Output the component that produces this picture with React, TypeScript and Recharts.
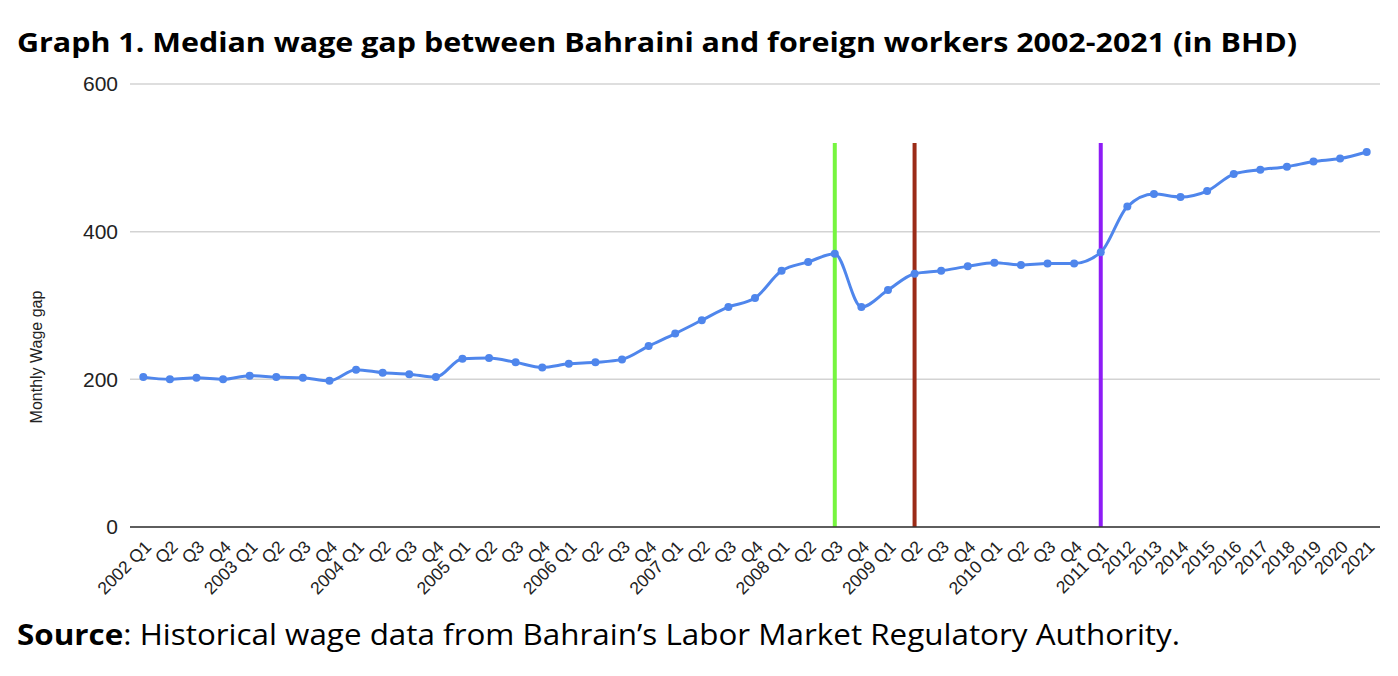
import { LineChart, Line, XAxis, YAxis, CartesianGrid, ReferenceLine, Label } from 'recharts';

// quarter keys (unique) and what is printed under each one
const periods = [
  '2002 Q1', '2002 Q2', '2002 Q3', '2002 Q4',
  '2003 Q1', '2003 Q2', '2003 Q3', '2003 Q4',
  '2004 Q1', '2004 Q2', '2004 Q3', '2004 Q4',
  '2005 Q1', '2005 Q2', '2005 Q3', '2005 Q4',
  '2006 Q1', '2006 Q2', '2006 Q3', '2006 Q4',
  '2007 Q1', '2007 Q2', '2007 Q3', '2007 Q4',
  '2008 Q1', '2008 Q2', '2008 Q3', '2008 Q4',
  '2009 Q1', '2009 Q2', '2009 Q3', '2009 Q4',
  '2010 Q1', '2010 Q2', '2010 Q3', '2010 Q4',
  '2011 Q1', '2012', '2013', '2014', '2015', '2016', '2017', '2018', '2019', '2020', '2021',
];

const tickLabels = [
  '2002 Q1', 'Q2', 'Q3', 'Q4',
  '2003 Q1', 'Q2', 'Q3', 'Q4',
  '2004 Q1', 'Q2', 'Q3', 'Q4',
  '2005 Q1', 'Q2', 'Q3', 'Q4',
  '2006 Q1', 'Q2', 'Q3', 'Q4',
  '2007 Q1', 'Q2', 'Q3', 'Q4',
  '2008 Q1', 'Q2', 'Q3', 'Q4',
  '2009 Q1', 'Q2', 'Q3', 'Q4',
  '2010 Q1', 'Q2', 'Q3', 'Q4',
  '2011 Q1', '2012', '2013', '2014', '2015', '2016', '2017', '2018', '2019', '2020', '2021',
];

const wageGap = [
  203, 200, 202, 200,
  205, 203, 202, 198,
  213, 209, 207, 203,
  228, 229, 223, 216,
  221, 223, 227, 245,
  262, 280, 298, 310,
  347, 359, 370, 298,
  321, 343, 347, 353,
  358, 355, 357, 357,
  372, 434, 451, 447, 455, 478, 484, 488, 495, 499, 508,
];

const yTicks = [0, 200, 400, 600];

// hand-drawn markers on the original chart
const markers = [
  { at: '2008 Q3', color: '#76f53f' },
  { at: '2009 Q2', color: '#9b2b17' },
  { at: '2011 Q1', color: '#8e1cf6' },
];
const markerTop = 520;

const chartData = periods.map((p, i) => ({ period: p, gap: wageGap[i] }));

const XTick = ({ x, y, index }: any) => {
  const ax = x + 9;
  const ay = y + 13;
  return (
    <text
      x={ax}
      y={ay}
      transform={`rotate(-45 ${ax} ${ay})`}
      textAnchor="end"
      fontSize={17.5}
      fontFamily="Liberation Sans, Arial, sans-serif"
      fill="#222"
    >
      {tickLabels[index]}
    </text>
  );
};

export default function App() {
  return (
    <div style={{ position: 'relative', width: 1398, height: 660, margin: -8, background: '#fff' }}>
      <div style={{ position: 'absolute', left: 0, top: 0 }}>
        <LineChart
          width={1398}
          height={620}
          data={chartData}
          margin={{ top: 84, right: 18, left: 70, bottom: 13 }}
        >
          <CartesianGrid vertical={false} stroke="#d3d3d3" strokeWidth={1.5} />
          <XAxis
            dataKey="period"
            interval={0}
            tickLine={false}
            axisLine={{ stroke: '#333', strokeWidth: 1.5 }}
            padding={{ left: 13.3, right: 13.3 }}
            height={80}
            tick={<XTick />}
          />
          <YAxis
            width={60}
            domain={[0, 600]}
            ticks={yTicks}
            axisLine={false}
            tickLine={false}
            tickMargin={6}
            tick={{ fontSize: 21, fill: '#222', fontFamily: 'Liberation Sans, Arial, sans-serif' }}
          >
            <Label
              content={() => (
                <text
                  x={42}
                  y={357}
                  transform="rotate(-90 42 357)"
                  textAnchor="middle"
                  fontSize={16}
                  fontFamily="Liberation Sans, Arial, sans-serif"
                  fill="#222"
                >
                  Monthly Wage gap
                </text>
              )}
            />
          </YAxis>
          <Line
            type="monotone"
            dataKey="gap"
            stroke="#4f86ec"
            strokeWidth={3}
            dot={{ r: 4, fill: '#4f86ec', stroke: '#4f86ec', strokeWidth: 0 }}
            activeDot={false}
            isAnimationActive={false}
          />
          {markers.map((m) => (
            <ReferenceLine
              key={m.at}
              segment={[{ x: m.at, y: 0 }, { x: m.at, y: markerTop }]}
              stroke={m.color}
              strokeWidth={4}
            />
          ))}
        </LineChart>
      </div>
      <svg width={1398} height={660} style={{ position: 'absolute', left: 0, top: 0, pointerEvents: 'none' }}>
        <text
          x={17}
          y={52}
          fontFamily="Open Sans, sans-serif"
          fontWeight={700}
          fontSize={26}
          textLength={1280}
          lengthAdjust="spacingAndGlyphs"
          fill="#000"
        >
          Graph 1. Median wage gap between Bahraini and foreign workers 2002-2021 (in BHD)
        </text>
        <text
          x={17}
          y={645}
          fontFamily="Open Sans, sans-serif"
          fontSize={29}
          textLength={1163}
          lengthAdjust="spacingAndGlyphs"
          fill="#000"
        >
          <tspan fontWeight={700}>Source</tspan>: Historical wage data from Bahrain’s Labor Market Regulatory Authority.
        </text>
      </svg>
    </div>
  );
}
